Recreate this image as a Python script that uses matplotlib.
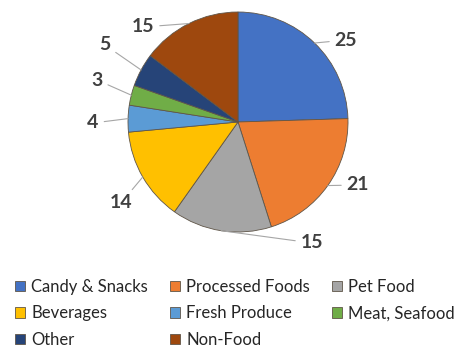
import matplotlib
matplotlib.use("Agg")
import matplotlib.pyplot as plt
import numpy as np

# datos del gráfico
categories = ["Candy & Snacks", "Processed Foods", "Pet Food", "Beverages",
              "Fresh Produce", "Meat, Seafood", "Other", "Non-Food"]
values = [25, 21, 15, 14, 4, 3, 5, 15]
colors = ["#4472C4", "#ED7D31", "#A5A5A5", "#FFC000",
          "#5B9BD5", "#70AD47", "#264478", "#9E480E"]

# posiciones de las etiquetas (pixeles, origen arriba-izquierda)
label_pos = [(346, 40), (358, 185), (312, 243), (121, 203),
             (93, 123), (97, 80), (105, 45), (143, 27)]

W, H = 460, 349
cx, cy, r = 238, H - 122, 110

plt.rcParams['font.family'] = ['Lato', 'DejaVu Sans']

fig = plt.figure(figsize=(W / 100, H / 100), dpi=100)
ax = fig.add_axes([0, 0, 1, 1])

wedges, _ = ax.pie(values, colors=colors, startangle=90, counterclock=False,
                   center=(cx, cy), radius=r,
                   wedgeprops=dict(edgecolor="#5f5548", linewidth=0.6))

ax.set_xlim(0, W)
ax.set_ylim(0, H)
ax.set_aspect('equal')
ax.axis('off')

# etiquetas con líneas guía
total = sum(values)
cum = 0
for v, (lx, ly) in zip(values, label_pos):
    mid = 90 - (cum + v / 2) / total * 360
    cum += v
    ex = cx + r * np.cos(np.radians(mid))
    ey = cy + r * np.sin(np.radians(mid))
    ax.annotate(str(v), xy=(ex, ey), xytext=(lx, H - ly),
                ha='center', va='center', fontsize=14, fontweight='bold',
                color="#404040",
                arrowprops=dict(arrowstyle='-', color="#a6a6a6", lw=0.8,
                                shrinkA=2, shrinkB=0))

# leyenda (orden por filas)
order = [0, 3, 6, 1, 4, 7, 2, 5]
ax.legend([wedges[i] for i in order], [categories[i] for i in order],
          ncol=3, loc='upper left', bbox_to_anchor=(8 / W, 1 - 272 / H),
          frameon=False, fontsize=12, handlelength=0.6, handleheight=0.6,
          handletextpad=0.4, columnspacing=1.3, labelspacing=0.64,
          labelcolor="#262626", borderaxespad=0)

fig.savefig("out.png", dpi=100)
